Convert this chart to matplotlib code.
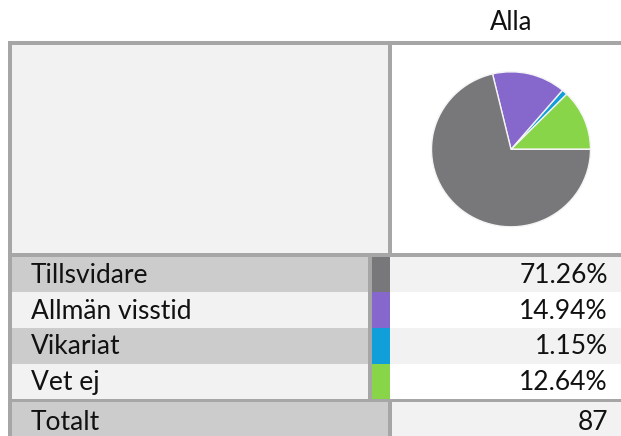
import matplotlib
matplotlib.use("Agg")
import matplotlib.pyplot as plt
import matplotlib.patches as mpatches

# data
categories = ["Tillsvidare", "Allmän visstid", "Vikariat", "Vet ej"]
shares = [71.26, 14.94, 1.15, 12.64]
colors = ["#78777a", "#8667cc", "#109fd9", "#88d54a"]
total = 87
title = "Alla"

plt.rcParams['font.family'] = ['Lato', 'DejaVu Sans']

W, H = 621, 436
fig = plt.figure(figsize=(W / 100, H / 100), dpi=100)
ax = fig.add_axes([0, 0, 1, 1])
ax.set_xlim(0, W)
ax.set_ylim(H, 0)
ax.axis("off")

border = "#a6a6a6"
txt = "#111111"
fs = 19


def box(x0, y0, x1, y1, color):
    ax.add_patch(mpatches.Rectangle((x0, y0), x1 - x0, y1 - y0,
                                    facecolor=color, edgecolor="none"))


# border frame drawn first, cells on top
box(8.3, 41, W, H, border)
box(8.3, 0, 8.3, 0, border)

# upper block
box(12.3, 45, 387.7, 253.3, "#f2f2f2")
box(391.7, 45, W, 253.3, "white")

# category rows
row_top = 256.7
row_h = 35.6
for i, (name, val, c) in enumerate(zip(categories, shares, colors)):
    y0 = row_top + i * row_h
    y1 = y0 + row_h
    box(12.3, y0, 367.7, y1, "#cccccc" if i % 2 == 0 else "#f2f2f2")
    box(371.7, y0, 390, y1, c)
    box(390, y0, W, y1, "#f2f2f2" if i % 2 == 0 else "white")
    yb = y0 + 26.5
    ax.text(31, yb, name, fontsize=fs, va="baseline", ha="left", color=txt)
    ax.text(608, yb, f"{val:.2f}%", fontsize=fs, va="baseline", ha="right",
            color=txt)

# total row
tot_top = 402.3
box(12.3, tot_top, 387.7, H, "#cccccc")
box(391.7, tot_top, W, H, "#f2f2f2")
ax.text(31, 430, "Totalt", fontsize=fs, va="baseline", ha="left", color=txt)
ax.text(608, 430, str(total), fontsize=fs, va="baseline", ha="right", color=txt)

# title
ax.text(511, 30, title, fontsize=18.5, ha="center", va="baseline", color=txt)

# pie (slightly flattened like the source)
cx, cy, rx, ry = 511, 149.3, 79.5, 77.5
pax = fig.add_axes([(cx - rx) / W, (H - cy - ry) / H, 2 * rx / W, 2 * ry / H])
pax.pie(shares[::-1], colors=colors[::-1], startangle=0, counterclock=True,
        wedgeprops=dict(edgecolor="#f4f4f4", linewidth=1.0))
pax.set_xlim(-1, 1)
pax.set_ylim(-1, 1)
pax.set_aspect("auto")

fig.savefig("out.png", dpi=100)
